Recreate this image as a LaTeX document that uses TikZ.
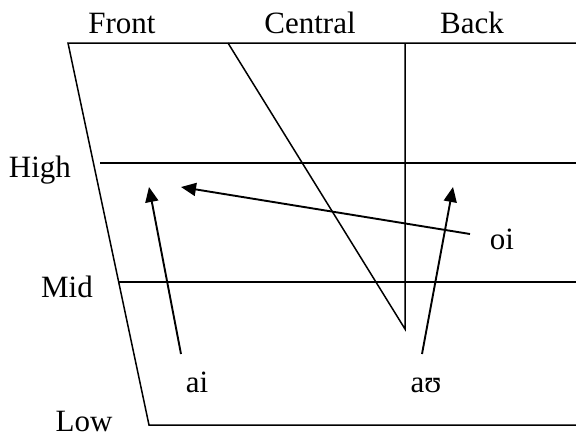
\documentclass[tikz,border=0pt]{standalone}
\usepackage{fontspec}
\setmainfont{Liberation Serif}
\usetikzlibrary{arrows.meta}

\begin{document}
\begin{tikzpicture}[x=1pt,y=-1pt,line width=1.5pt,>={Triangle[length=15pt,width=13pt]},
  lbl/.style={anchor=base,inner sep=0pt,font=\fontsize{31}{36}\selectfont},
  ar/.style={->,line width=1.9pt}]
\useasboundingbox (0,0) rectangle (576,440);
% chart frame
\coordinate (tl) at (68,43);  \coordinate (tr) at (576,43);
\coordinate (bl) at (149,425); \coordinate (br) at (576,425);
\coordinate (hl) at (100,163); \coordinate (hr) at (576,163);
\coordinate (ml) at (119,282); \coordinate (mr) at (576,282);
\coordinate (ct) at (228,43);  \coordinate (bt) at (405,43);
\coordinate (cb) at (405,329);
\draw (tr)--(tl)--(bl)--(br);
\draw (hl)--(hr); \draw (ml)--(mr);
\draw (ct)--(cb)--(bt);
% labels
\node[lbl] (front) at (122,33) {Front};
\node[lbl] (central) at (310,33) {Central};
\node[lbl] (back) at (472,33) {Back};
\node[lbl] (high) at (40,177) {High};
\node[lbl] (mid) at (67,297) {Mid};
\node[lbl] (low) at (84,431) {Low};
\node[lbl] (ai) at (197,392) {ai};
\node[lbl] (au) at (426,392) {a\char"028A};
\node[lbl] (oi) at (502,249) {oi};
% glides
\coordinate (ai0) at (181,354); \coordinate (ai1) at (149,187);
\coordinate (oi0) at (470,234); \coordinate (oi1) at (181,187);
\coordinate (au0) at (422,354); \coordinate (au1) at (453,187);
\draw[ar] (ai0)--(ai1);
\draw[ar] (oi0)--(oi1);
\draw[ar] (au0)--(au1);
\end{tikzpicture}
\end{document}
